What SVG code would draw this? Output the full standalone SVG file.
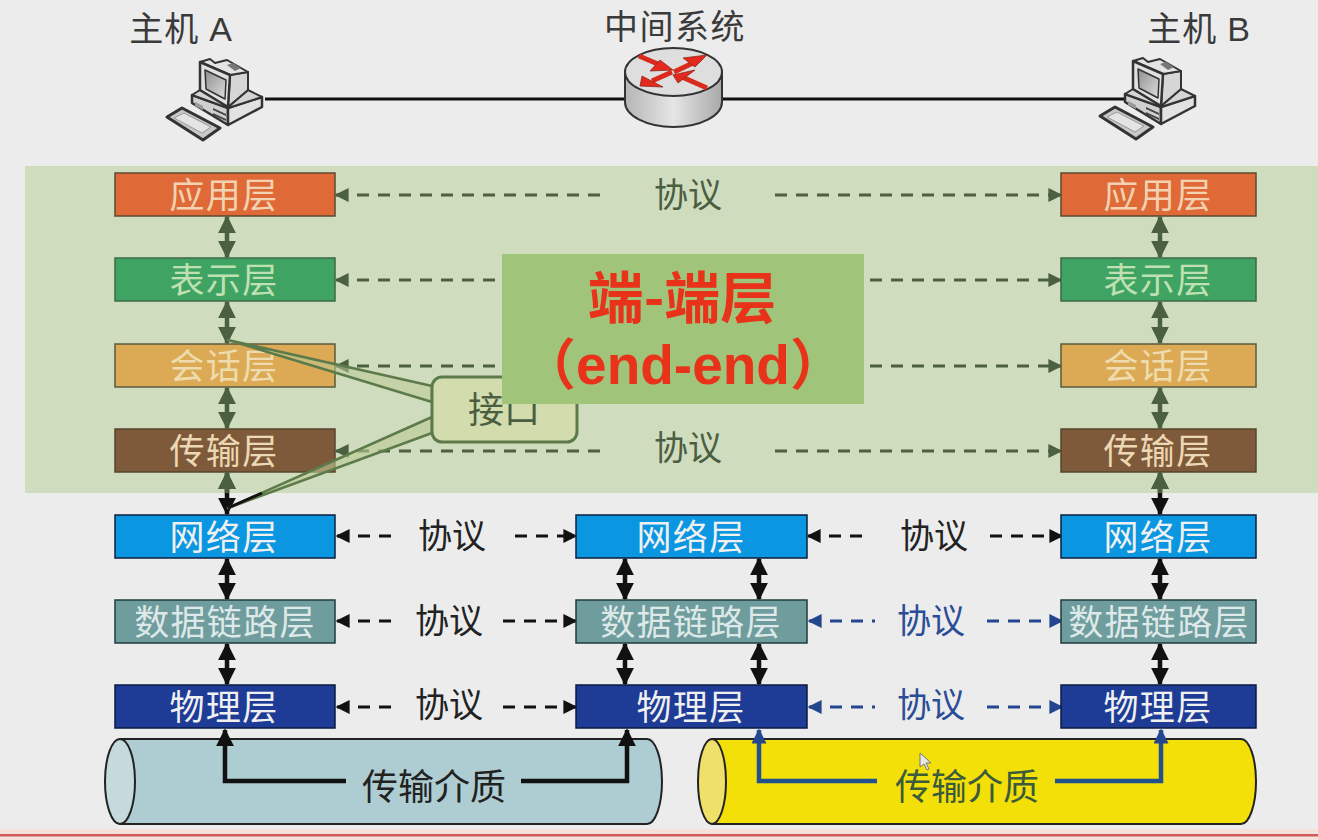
<svg xmlns="http://www.w3.org/2000/svg" width="1318" height="840" viewBox="0 0 1318 840">
<style>
text{font-family:"Noto Sans CJK SC","Liberation Sans",sans-serif;text-anchor:middle}
.h{font-size:34px;fill:#3a3a3a;font-family:"Liberation Sans","Noto Sans CJK SC",sans-serif;letter-spacing:.8px}
.l{font-size:35px;fill:#f0f0f0;letter-spacing:1.300px}
.p{font-size:34px;fill:#222}
.pg{fill:#4a5e42}.pb{fill:#2b4c96}
.box{stroke-width:1.500}
.d{fill:none;stroke:#111;stroke-width:3;stroke-dasharray:12 9}
.dg{fill:none;stroke:#4a6040;stroke-width:3;stroke-dasharray:12 9}
.db{fill:none;stroke:#23468f;stroke-width:3;stroke-dasharray:12 9}
.v{fill:none;stroke:#111;stroke-width:4.500;marker-start:url(#ak);marker-end:url(#ak)}
.vg{fill:none;stroke:#4a6040;stroke-width:4.500;marker-start:url(#ag);marker-end:url(#ag)}
.e{fill:none;stroke:#111;stroke-width:4.500;marker-end:url(#ak)}
.eb{fill:none;stroke:#23508f;stroke-width:4.500;marker-end:url(#ab)}
.ra{stroke:#d92a1c;stroke-width:5;fill:none}
.rh{fill:#e5291e;stroke:#8a2a1e;stroke-width:.8}
</style>
<defs>
<marker id="ak" viewBox="0 0 10 10" refX="9" refY="5" markerWidth="18" markerHeight="18" markerUnits="userSpaceOnUse" orient="auto-start-reverse"><path d="M0 0L10 5L0 10Z" fill="#111"/></marker>
<marker id="ag" viewBox="0 0 10 10" refX="9" refY="5" markerWidth="18" markerHeight="18" markerUnits="userSpaceOnUse" orient="auto-start-reverse"><path d="M0 0L10 5L0 10Z" fill="#4a6040"/></marker>
<marker id="ab" viewBox="0 0 10 10" refX="9" refY="5" markerWidth="15" markerHeight="15" markerUnits="userSpaceOnUse" orient="auto-start-reverse"><path d="M0 0L10 5L0 10Z" fill="#23468f"/></marker>
<marker id="s" viewBox="0 0 10 10" refX="9" refY="5" markerWidth="14" markerHeight="14" markerUnits="userSpaceOnUse" orient="auto-start-reverse"><path d="M0 0L10 5L0 10Z" fill="#111"/></marker>
<marker id="sg" viewBox="0 0 10 10" refX="9" refY="5" markerWidth="14" markerHeight="14" markerUnits="userSpaceOnUse" orient="auto-start-reverse"><path d="M0 0L10 5L0 10Z" fill="#4a6040"/></marker>
<marker id="sb" viewBox="0 0 10 10" refX="9" refY="5" markerWidth="14" markerHeight="14" markerUnits="userSpaceOnUse" orient="auto-start-reverse"><path d="M0 0L10 5L0 10Z" fill="#23468f"/></marker>
<linearGradient id="rb" x1="0" x2="1" y1="0" y2="0"><stop offset="0" stop-color="#b5b5b5"/><stop offset=".5" stop-color="#e6e6e6"/><stop offset="1" stop-color="#a8a8a8"/></linearGradient>
<linearGradient id="sc" x1="0" x2="1" y1="0" y2="1"><stop offset="0" stop-color="#8f8f8f"/><stop offset="1" stop-color="#dedede"/></linearGradient>
<g id="pc" stroke="#333" stroke-linejoin="round">
<path d="M192 95L228 108L228 125L192 103Z" fill="#cfcfcf" stroke-width="2.500"/>
<path d="M228 108L262 97L262 107L228 125Z" fill="#e2e2e2" stroke-width="2.500"/>
<path d="M192 95L200 90L228 107L248 90L262 97L228 108Z" fill="#d4d4d4" stroke-width="2"/>
<path d="M230 75L248 72L248 90L228 107Z" fill="#d6d6d6" stroke-width="2"/>
<path d="M200 62L210 59L215 63L227 60L248 72L230 75Z" fill="#e4e4e4" stroke-width="2"/>
<path d="M227 65L233 63L241 68L235 71Z" fill="#777" stroke="none"/>
<path d="M200 62L230 75L228 107L200 90Z" fill="#e0e0e0" stroke-width="2.500"/>
<path d="M205 70L226 80L225 99L206 89Z" fill="url(#sc)" stroke-width="1.500"/>
<path d="M213 108L226 114L226 116L213 110ZM213 113L226 119L226 121L213 115Z" fill="#444" stroke="none"/>
<path d="M195 102L203 106L203 110L195 106Z" fill="#999" stroke="none"/>
<path d="M167 117L182 108L220 128L203 140Z" fill="#c8c8c8" stroke-width="3"/>
<path d="M174 118L184 113L211 127L202 133Z" fill="#e4e4e4" stroke="#999" stroke-width="1"/>
</g>
</defs>
<rect width="1318" height="840" fill="#ececec"/>
<rect y="829" width="1318" height="11" fill="#f4e2da"/>
<rect y="834" width="1318" height="2.500" fill="#cf5a5c"/>
<rect id="end-band" x="25" y="166" width="1293" height="327" fill="#d0dcbe"/>

<g id="connectors">
<path d="M265 99H625M722 99H1125" stroke="#111" stroke-width="3" fill="none"/>
<path class="dg" d="M336 195H605" style="marker-start:url(#sg)"/><path class="dg" d="M336 280H505" style="marker-start:url(#sg)"/><path class="dg" d="M336 366H505" style="marker-start:url(#sg)"/><path class="dg" d="M336 451H605" style="marker-start:url(#sg)"/>
<path class="dg" d="M775 195H1061" style="marker-end:url(#sg)"/><path class="dg" d="M870 280H1061" style="marker-end:url(#sg)"/><path class="dg" d="M870 366H1061" style="marker-end:url(#sg)"/><path class="dg" d="M775 451H1061" style="marker-end:url(#sg)"/>
<path class="d" d="M337 536H400" style="marker-start:url(#s)"/><path class="d" d="M515 536H576" style="marker-end:url(#s)"/><path class="d" d="M808 536H870" style="marker-start:url(#s)"/><path class="d" d="M990 536H1062" style="marker-end:url(#s)"/>
<path class="d" d="M337 621H397" style="marker-start:url(#s)"/><path class="d" d="M503 621H576" style="marker-end:url(#s)"/><path class="d" d="M337 707H397" style="marker-start:url(#s)"/><path class="d" d="M503 707H576" style="marker-end:url(#s)"/>
<path class="db" d="M809 621H875" style="marker-start:url(#sb)"/><path class="db" d="M987 621H1062" style="marker-end:url(#sb)"/><path class="db" d="M809 707H875" style="marker-start:url(#sb)"/><path class="db" d="M987 707H1062" style="marker-end:url(#sb)"/>
<path class="vg" d="M227 217V257"/><path class="vg" d="M227 302V343"/><path class="vg" d="M227 388V428"/>
<path class="vg" d="M1160 217V257"/><path class="vg" d="M1160 302V343"/><path class="vg" d="M1160 388V428"/>
<path class="v" d="M227 473V514"/><path class="v" d="M1160 473V514"/>
<path class="vg" d="M227 473V493" style="marker-end:none"/><path class="vg" d="M1160 473V493" style="marker-end:none"/>
<path class="v" d="M227 559V599"/><path class="v" d="M227 644V684"/><path class="v" d="M1160 559V599"/><path class="v" d="M1160 644V684"/>
<path class="v" d="M625 559V599"/><path class="v" d="M759 559V599"/><path class="v" d="M625 644V684"/><path class="v" d="M759 644V684"/>
</g>

<g id="medium-a"><path d="M120 739H647A15 42.500 0 0 1 647 824H120Z" fill="#aecdd2" stroke="#222" stroke-width="2"/><ellipse cx="120" cy="781.500" rx="15" ry="42.500" fill="#c4dadd" stroke="#222" stroke-width="2"/><text class="p" x="434" y="800" style="font-size:36px">传输介质</text></g>
<g id="medium-b"><path d="M712 739H1241A15 42.500 0 0 1 1241 824H712Z" fill="#f2e008" stroke="#222" stroke-width="2"/><ellipse cx="712" cy="781.500" rx="14" ry="42.500" fill="#efe06a" stroke="#222" stroke-width="2"/><text class="p" x="967" y="800" style="font-size:36px;fill:#3c5a3c">传输介质</text></g>
<path class="e" d="M346 781H225V730"/><path class="e" d="M521 781H627V730"/>
<path class="eb" d="M877 781H759V730"/><path class="eb" d="M1055 781H1161V730"/>

<g id="host-a"><text class="h" x="181" y="41">主机 A</text><use href="#pc"/></g>
<g id="system"><text class="h" x="675" y="39" style="letter-spacing:1.500px">中间系统</text>
<path d="M625 72V102A48.500 25 0 0 0 722 102V72Z" fill="url(#rb)" stroke="#333" stroke-width="2"/>
<ellipse cx="673.500" cy="72" rx="48.500" ry="24" fill="#dedede" stroke="#333" stroke-width="2"/>
<path class="ra" d="M639 56L665 67M674 72L695 62M672 72L652 81M682 77L707 88"/>
<path class="rh" d="M673 70L650 71L660 60ZM707 55L683 58L695 67ZM640 86L642 76L663 87ZM673 75L695 70L678 83Z"/></g>
<g id="host-b"><text class="h" x="1199" y="41">主机 B</text><use href="#pc" x="933" y="-1"/></g>

<g id="a-app"><rect class="box" x="115" y="173" width="220" height="43" fill="#df6a38" stroke="#5a4a30"/><text class="l" x="224" y="208" style="fill:#f2d2b0">应用层</text></g>
<g id="a-pres"><rect class="box" x="115" y="258" width="220" height="43" fill="#3fa463" stroke="#3d6a45"/><text class="l" x="224" y="293" style="fill:#bfe0b0">表示层</text></g>
<g id="a-sess"><rect class="box" x="115" y="344" width="220" height="43" fill="#dcaa55" stroke="#5a5a3c"/><text class="l" x="224" y="379" style="fill:#eedcae">会话层</text></g>
<g id="a-trans"><rect class="box" x="115" y="429" width="220" height="43" fill="#7f5a3a" stroke="#55452e"/><text class="l" x="224" y="464" style="fill:#ecd8b4">传输层</text></g>
<g id="a-net"><rect class="box" x="115" y="515" width="220" height="43" fill="#0a96e0" stroke="#0a1f40"/><text class="l" x="224" y="550">网络层</text></g>
<g id="a-link"><rect class="box" x="115" y="600" width="220" height="43" fill="#6f9c9c" stroke="#1f3c3c"/><text class="l" x="225" y="635" style="fill:#dde8e8">数据链路层</text></g>
<g id="a-phy"><rect class="box" x="115" y="685" width="220" height="43" fill="#1e3c96" stroke="#0a1a40"/><text class="l" x="224" y="720">物理层</text></g>

<g id="m-net"><rect class="box" x="576" y="515" width="231" height="43" fill="#0a96e0" stroke="#0a1f40"/><text class="l" x="691" y="550">网络层</text></g>
<g id="m-link"><rect class="box" x="576" y="600" width="231" height="43" fill="#6f9c9c" stroke="#1f3c3c"/><text class="l" x="691" y="635" style="fill:#dde8e8">数据链路层</text></g>
<g id="m-phy"><rect class="box" x="576" y="685" width="231" height="43" fill="#1e3c96" stroke="#0a1a40"/><text class="l" x="691" y="720">物理层</text></g>

<g id="b-app"><rect class="box" x="1061" y="173" width="195" height="43" fill="#df6a38" stroke="#5a4a30"/><text class="l" x="1158" y="208" style="fill:#f2d2b0">应用层</text></g>
<g id="b-pres"><rect class="box" x="1061" y="258" width="195" height="43" fill="#3fa463" stroke="#3d6a45"/><text class="l" x="1158" y="293" style="fill:#bfe0b0">表示层</text></g>
<g id="b-sess"><rect class="box" x="1061" y="344" width="195" height="43" fill="#dcaa55" stroke="#5a5a3c"/><text class="l" x="1158" y="379" style="fill:#eedcae">会话层</text></g>
<g id="b-trans"><rect class="box" x="1061" y="429" width="195" height="43" fill="#7f5a3a" stroke="#55452e"/><text class="l" x="1158" y="464" style="fill:#ecd8b4">传输层</text></g>
<g id="b-net"><rect class="box" x="1061" y="515" width="195" height="43" fill="#0a96e0" stroke="#0a1f40"/><text class="l" x="1158" y="550">网络层</text></g>
<g id="b-link"><rect class="box" x="1061" y="600" width="195" height="43" fill="#6f9c9c" stroke="#1f3c3c"/><text class="l" x="1159" y="635" style="fill:#dde8e8">数据链路层</text></g>
<g id="b-phy"><rect class="box" x="1061" y="685" width="195" height="43" fill="#1e3c96" stroke="#0a1a40"/><text class="l" x="1158" y="720">物理层</text></g>

<g id="protocols">
<text class="p pg" x="688" y="207">协议</text><text class="p pg" x="688" y="460">协议</text>
<text class="p" x="452" y="548">协议</text><text class="p" x="934" y="548">协议</text>
<text class="p" x="449" y="633">协议</text><text class="p" x="449" y="717">协议</text>
<text class="p pb" x="931" y="633">协议</text><text class="p pb" x="931" y="717">协议</text>
</g>

<g id="interface">
<path d="M432 386L228 340L432 402Z" fill="#bcca95" fill-opacity=".55" stroke="#5d7a4a" stroke-width="2.500" stroke-linejoin="round"/>
<path d="M432 417L228 508L432 433Z" fill="#bcca95" fill-opacity=".6" stroke="#5d7a4a" stroke-width="2.500" stroke-linejoin="round"/>
<path d="M228 508L262 493" stroke="#111" stroke-width="3"/>
<rect x="432" y="377" width="145" height="65" rx="10" fill="#d2dcac" stroke="#5d7a4a" stroke-width="3"/>
<text class="p pg" x="504" y="423" style="font-size:36px">接口</text>
</g>

<g id="end-end">
<rect x="502" y="254" width="362" height="150" fill="#a0c47a"/>
<text x="682" y="318" style="font-size:56px;font-weight:700;fill:#e8321a">端-端层</text>
<text x="683" y="384" style="font-size:55px;font-weight:700;fill:#e8321a;font-family:'Liberation Sans','Noto Sans CJK SC',sans-serif">（end-end）</text>
</g>
<path id="cursor" d="M920 753L920 767L924 764L927 770L929 769L926 763L931 763Z" fill="#e8e8e8" stroke="#777" stroke-width="1"/>
</svg>
